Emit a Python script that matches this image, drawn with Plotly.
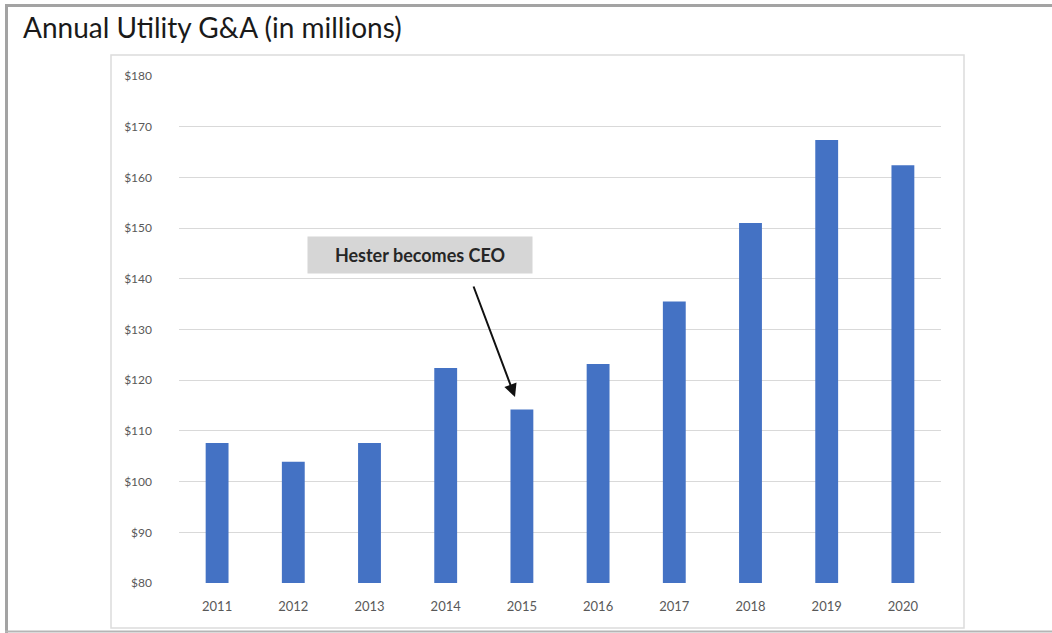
import plotly.graph_objects as go

years = ["2011", "2012", "2013", "2014", "2015", "2016", "2017", "2018", "2019", "2020"]
ga_millions = [107.6, 103.9, 107.6, 122.4, 114.2, 123.2, 135.5, 151.0, 167.4, 162.4]
y_ticks = [80, 90, 100, 110, 120, 130, 140, 150, 160, 170, 180]
y_tick_labels = [f"${v}" for v in y_ticks]

W, H = 1052, 633
L, R, T, B = 179, 111, 76, 50
pw, ph = W - L - R, H - T - B


def px(x):
    return (x - L) / pw


def py(y):
    return (H - B - y) / ph


fig = go.Figure(
    go.Bar(
        x=years,
        y=ga_millions,
        marker=dict(color="#4472C4", line=dict(width=0)),
        width=0.3,
    )
)

fig.update_layout(
    width=W,
    height=H,
    margin=dict(l=L, r=R, t=T, b=B),
    paper_bgcolor="white",
    plot_bgcolor="white",
    showlegend=False,
    title=dict(
        text="Annual Utility G&A (in millions)",
        x=23 / W,
        xanchor="left",
        y=1 - 28 / H,
        yanchor="middle",
        font=dict(family="Lato", size=28, color="#1a1a1a"),
    ),
    font=dict(family="Lato"),
)

fig.update_yaxes(
    range=[80, 180],
    tickvals=y_ticks,
    ticktext=y_tick_labels,
    showgrid=True,
    gridcolor="#d9d9d9",
    gridwidth=1,
    zeroline=False,
    showline=False,
    ticks="",
    ticklabelstandoff=26,
    tickfont=dict(family="Lato", size=12, color="#595959"),
)
fig.update_xaxes(
    type="category",
    showgrid=False,
    showline=False,
    ticks="",
    ticklabelstandoff=14,
    tickfont=dict(family="Lato", size=13, color="#595959"),
)

# frame around the whole figure and the chart box
fig.add_shape(type="line", xref="paper", yref="paper",
              x0=px(6.5), x1=px(6.5), y0=py(4), y1=py(633),
              line=dict(color="#a3a3a3", width=3))
fig.add_shape(type="line", xref="paper", yref="paper",
              x0=px(5), x1=px(1052), y0=py(5.5), y1=py(5.5),
              line=dict(color="#a3a3a3", width=3))
fig.add_shape(type="line", xref="paper", yref="paper",
              x0=px(5), x1=px(1052), y0=py(631.5), y1=py(631.5),
              line=dict(color="#b5b5b5", width=2))
fig.add_shape(type="rect", xref="paper", yref="paper",
              x0=px(111), x1=px(964), y0=py(628), y1=py(55),
              line=dict(color="#dcdcdc", width=1.5))

# callout label and arrow
fig.add_annotation(
    xref="paper", yref="paper",
    x=px(420), y=py(255),
    xanchor="center", yanchor="middle",
    text="<b>Hester becomes CEO</b>",
    showarrow=False,
    font=dict(family="Lato", size=18, color="#262626"),
    bgcolor="#d6d6d6",
    width=222, height=34,
)
fig.add_annotation(
    xref="paper", yref="paper",
    x=px(515), y=py(397),
    ax=473 - 515, ay=285 - 397,
    axref="pixel", ayref="pixel",
    text="",
    showarrow=True,
    arrowhead=2, arrowsize=1.3, arrowwidth=2,
    arrowcolor="#111111",
    standoff=0,
)

fig.write_html("out.html")
